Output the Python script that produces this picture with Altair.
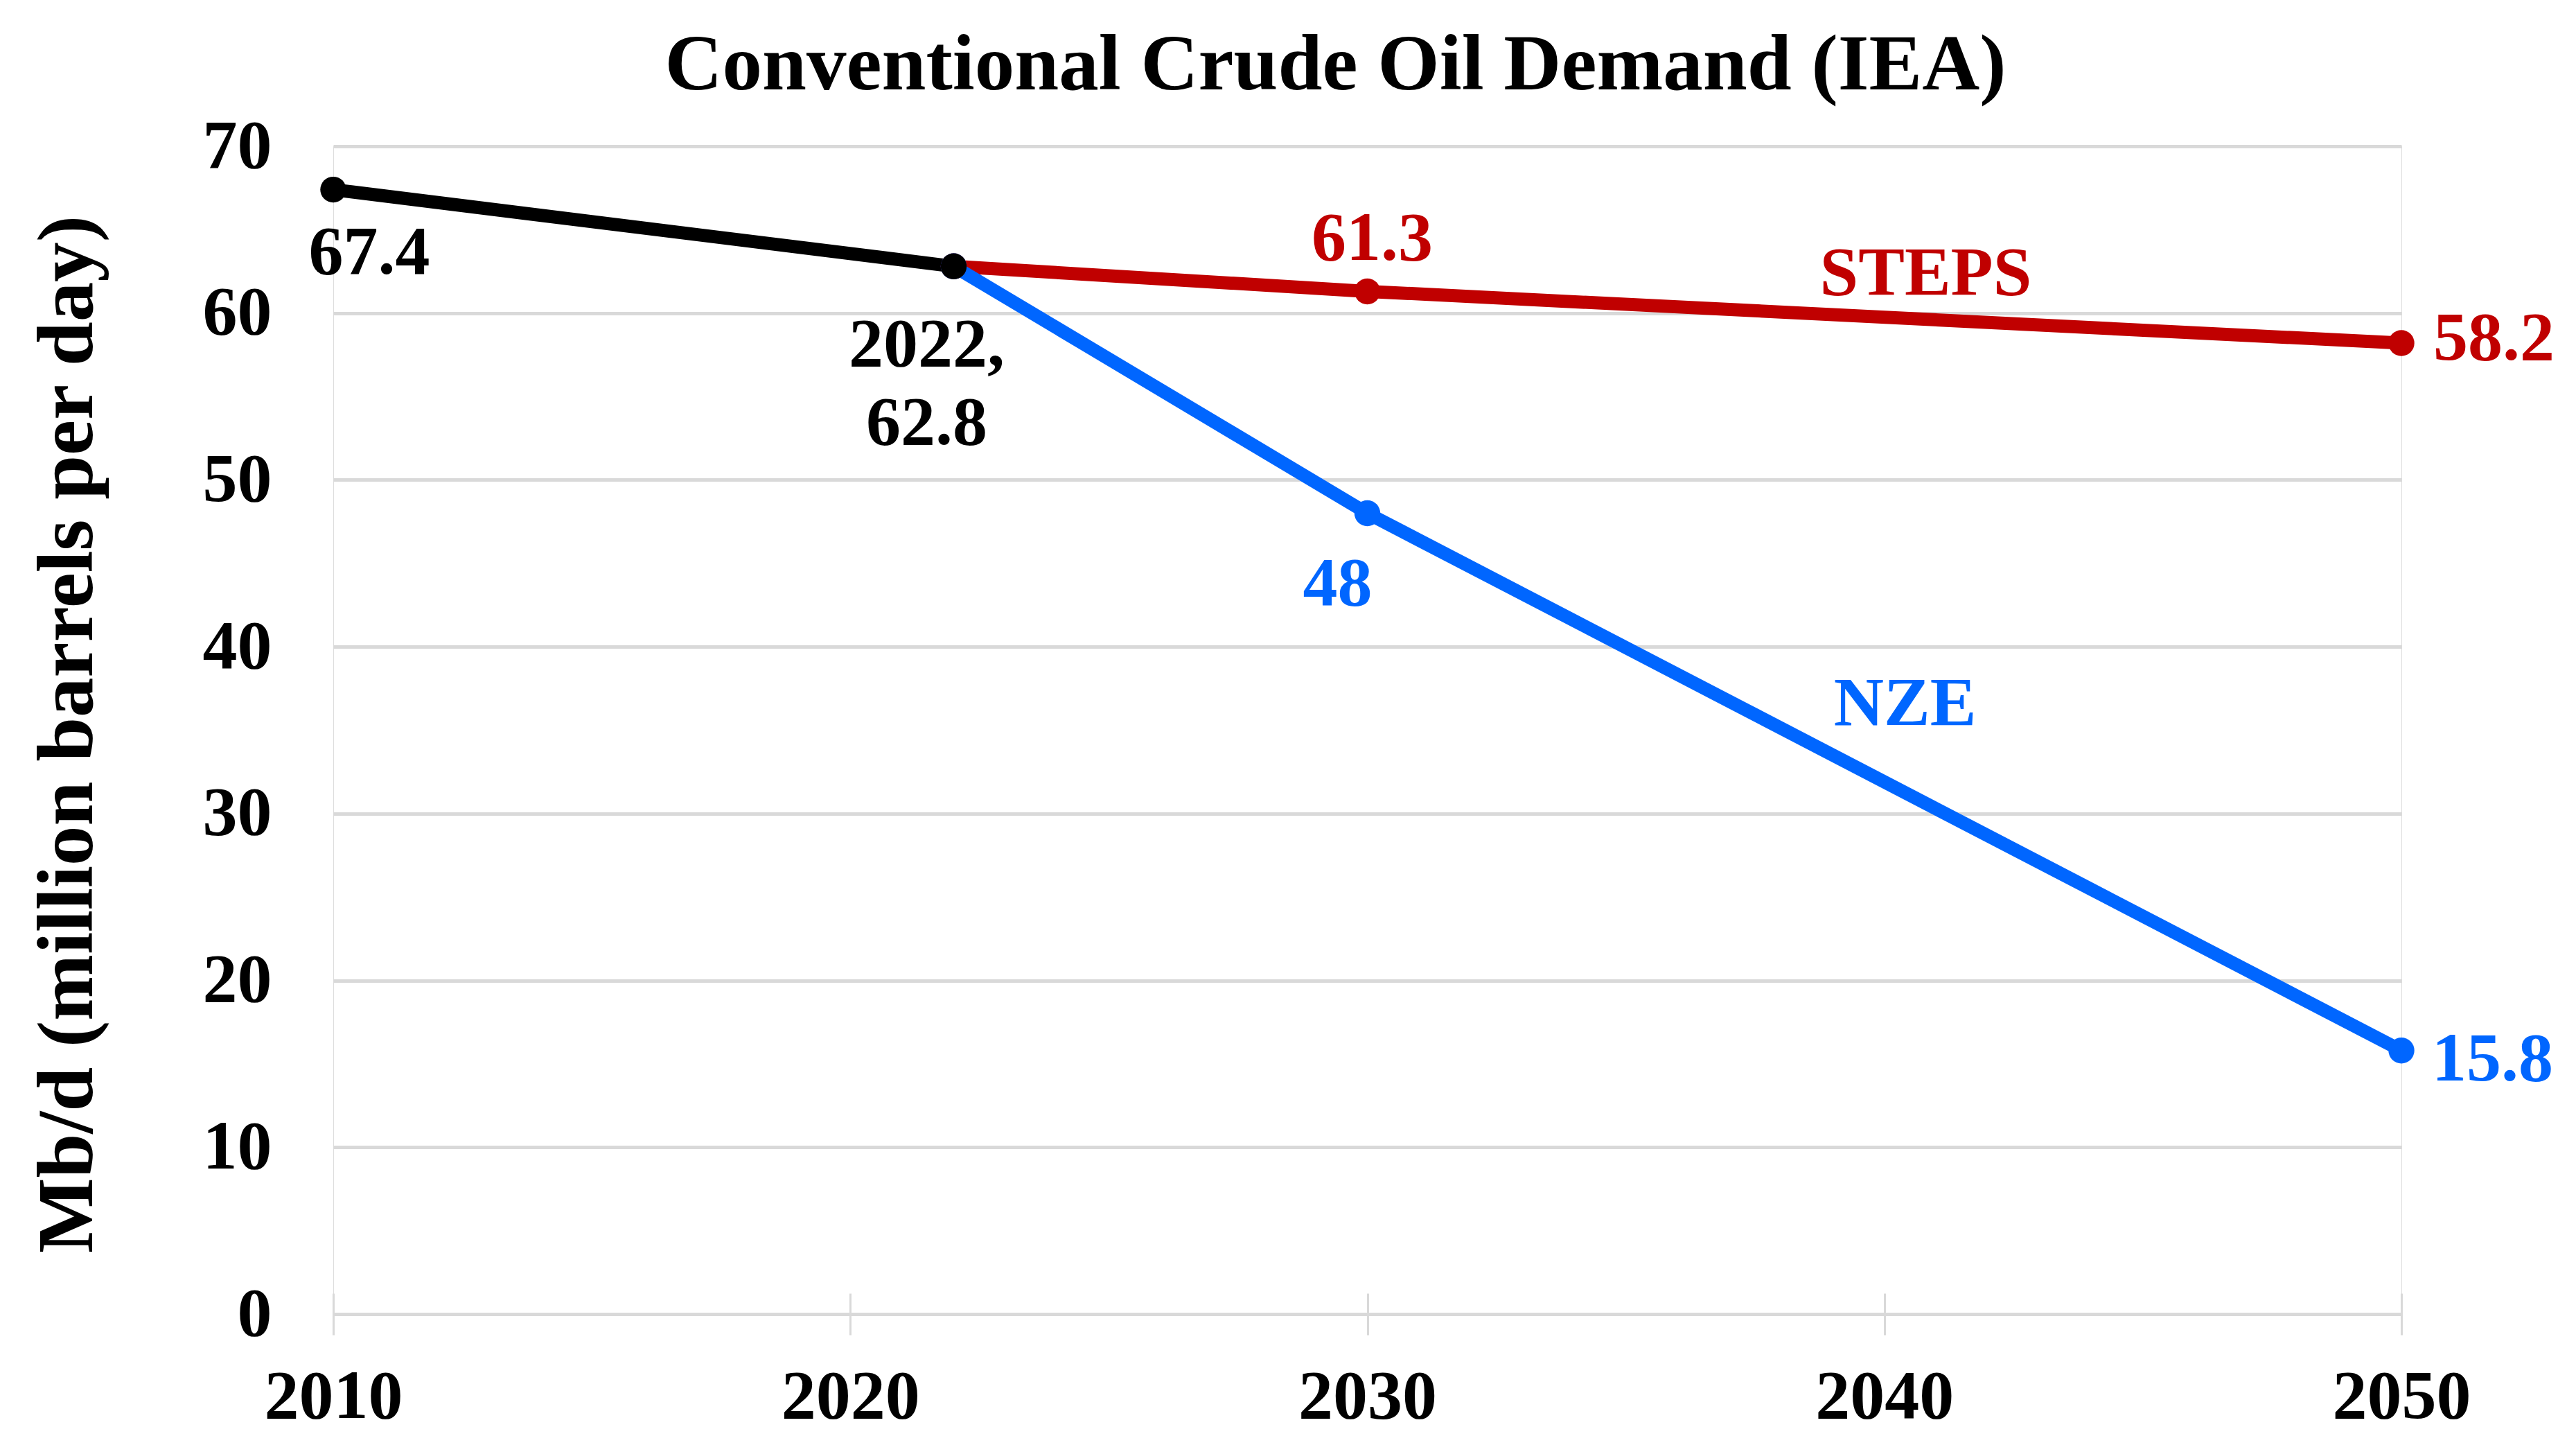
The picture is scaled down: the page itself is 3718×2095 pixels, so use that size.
import altair as alt
import pandas as pd

# ---- data ----
hist_years = [2010, 2022]
hist_values = [67.4, 62.8]
steps_years = [2022, 2030, 2050]
steps_values = [62.8, 61.3, 58.2]
nze_years = [2022, 2030, 2050]
nze_values = [62.8, 48.0, 15.8]

series_names = ["Historical", "STEPS", "NZE"]
series_colors = ["#000000", "#C00000", "#0066FF"]

x_ticks = [2010, 2020, 2030, 2040, 2050]
y_ticks = [0, 10, 20, 30, 40, 50, 60, 70]

name_labels = ["STEPS", "NZE"]
name_years = [2040.8, 2040.4]
name_values = [61.1, 35.3]

title_text = "Conventional Crude Oil Demand (IEA)"
y_title = "Mb/d (million barrels per day)"

# ---- build table ----
rows = []
for s, ys, vs in [("Historical", hist_years, hist_values),
                  ("STEPS", steps_years, steps_values),
                  ("NZE", nze_years, nze_values)]:
    for y, v in zip(ys, vs):
        rows.append({"series": s, "year": y, "value": v,
                     "label": f"{v:g}" if y != 2022 else f"{y},\n{v:g}"})
df = pd.DataFrame(rows)
names_df = pd.DataFrame({"name": name_labels, "year": name_years,
                         "value": name_values,
                         "series": ["STEPS", "NZE"]})

FONT = "Liberation Serif"
color_scale = alt.Scale(domain=series_names, range=series_colors)

x_enc = alt.X(
    "year:Q",
    scale=alt.Scale(domain=[2010, 2050], nice=False, zero=False),
    axis=alt.Axis(values=x_ticks, format="d", title=None, grid=False,
                  domain=False, ticks=True, tickSize=60, offset=-30,
                  tickColor="#D9D9D9", tickWidth=3, labelPadding=40,
                  labelLimit=1000, labelFlush=False, labelOverlap=False,
                  labelFont=FONT, labelFontSize=100, labelFontWeight="bold",
                  labelColor="#000000"),
)
y_enc = alt.Y(
    "value:Q",
    scale=alt.Scale(domain=[0, 70], nice=False),
    axis=alt.Axis(values=y_ticks, grid=True, gridColor="#D9D9D9", gridWidth=5,
                  domain=False, ticks=False, tickSize=0, labelPadding=89,
                  labelLimit=1000, labelFlush=False, labelOverlap=False,
                  labelFont=FONT, labelFontSize=100, labelFontWeight="bold",
                  labelColor="#000000",
                  title=y_title, titleFont=FONT, titleFontSize=115,
                  titleFontWeight="bold", titleColor="#000000",
                  titleAngle=270, titleX=-349, titleY=848, titleLimit=3000,
                  titleBaseline="alphabetic", titleAlign="center"),
)

base = alt.Chart(df).encode(
    x=x_enc, y=y_enc,
    color=alt.Color("series:N", scale=color_scale, legend=None),
)

def line_of(s):
    return base.transform_filter(alt.datum.series == s).mark_line(strokeWidth=19)

def points_of(s):
    return base.transform_filter(alt.datum.series == s).mark_point(
        filled=True, opacity=1, size=1400, shape="circle", strokeWidth=0)

def label(s, yr, dx, dy, align="center"):
    return alt.Chart(df).transform_filter(
        (alt.datum.series == s) & (alt.datum.year == yr)
    ).mark_text(font=FONT, fontSize=100, fontWeight="bold", align=align,
                baseline="alphabetic", dx=dx, dy=dy, lineBreak="\n",
                lineHeight=113).encode(
        x="year:Q", y="value:Q", text="label:N",
        color=alt.Color("series:N", scale=color_scale, legend=None),
    )

names = alt.Chart(names_df).mark_text(
    font=FONT, fontSize=100, fontWeight="bold", align="center",
    baseline="alphabetic").encode(
    x="year:Q", y="value:Q", text="name:N",
    color=alt.Color("series:N", scale=color_scale, legend=None),
)

chart = alt.layer(
    line_of("STEPS"), line_of("NZE"), line_of("Historical"),
    points_of("STEPS"), points_of("NZE"), points_of("Historical"),
    label("Historical", 2010, 52, 121),
    label("Historical", 2022, -39, 144),
    label("STEPS", 2030, 7, -45),
    label("NZE", 2030, -43, 132),
    label("STEPS", 2050, 46, 24, "left"),
    label("NZE", 2050, 44, 43, "left"),
    names,
).properties(
    width=2985, height=1685,
    autosize=alt.AutoSizeParams(type="none"),
    padding={"left": 473, "top": 203, "right": 240, "bottom": 185},
    title=alt.TitleParams(title_text, font=FONT, fontSize=115,
                          fontWeight="bold", color="#000000",
                          anchor="middle", dx=-46, dy=116, offset=33,
                          limit=4000, baseline="alphabetic"),
).configure_view(stroke=None).configure(background="white")

chart.save("out.html", embed_options={"renderer": "svg", "actions": False})
